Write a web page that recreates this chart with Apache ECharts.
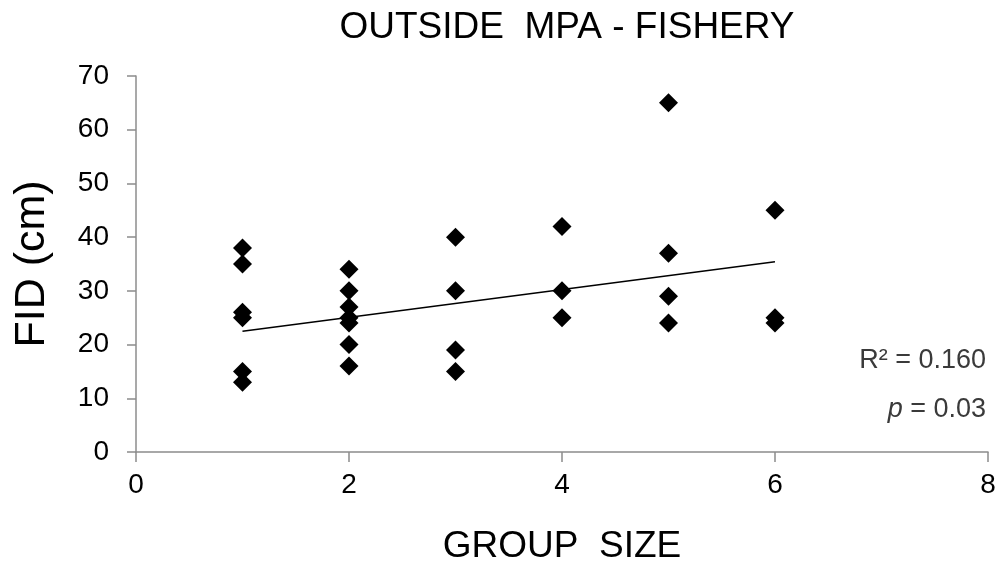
<!DOCTYPE html>
<html>
<head>
<meta charset="utf-8">
<script src="https://cdn.jsdelivr.net/npm/echarts@6/dist/echarts.min.js"></script>
<style>
  html, body { margin: 0; padding: 0; background: #fff; }
  #chart { width: 999px; height: 570px; }
</style>
</head>
<body>
<div id="chart"></div>
<script>
// Group size for each observation
const groupSize = [
  1, 1, 1, 1, 1, 1,
  2, 2, 2, 2, 2, 2, 2,
  3, 3, 3, 3,
  4, 4, 4,
  5, 5, 5, 5,
  6, 6, 6
];
// Flight initiation distance (cm) for each observation
const fid = [
  38, 35, 26, 25, 15, 13,
  34, 30, 27, 25, 24, 20, 16,
  40, 30, 19, 15,
  42, 30, 25,
  65, 37, 29, 24,
  45, 25, 24
];
// Linear trend line end points
const trendX = [1, 6];
const trendY = [22.5, 35.4];
// Axis ticks
const xTicks = [0, 2, 4, 6, 8];
const yTicks = [0, 10, 20, 30, 40, 50, 60, 70];
// Fit statistics
const r2Text = 'R² = 0.160';
const pValue = '0.03';

const FONT = '"Liberation Sans", Arial, sans-serif';
const points = groupSize.map((g, i) => [g, fid[i]]);
const trend = trendX.map((x, i) => [x, trendY[i]]);

const chart = echarts.init(document.getElementById('chart'), null, { renderer: 'canvas' });
chart.setOption({
  backgroundColor: '#ffffff',
  animation: false,
  title: {
    text: 'OUTSIDE  MPA - FISHERY',
    left: 562,
    textAlign: 'center',
    top: 4,
    textStyle: { fontFamily: FONT, fontSize: 37, fontWeight: 'normal', color: '#000' }
  },
  grid: { left: 136, right: 11, top: 76, bottom: 115 },
  xAxis: {
    type: 'value',
    min: xTicks[0],
    max: xTicks[xTicks.length - 1],
    interval: 2,
    name: 'GROUP  SIZE',
    nameLocation: 'middle',
    nameGap: 76,
    nameTextStyle: { fontFamily: FONT, fontSize: 37, color: '#000' },
    axisLine: { lineStyle: { color: '#8c8c8c', width: 1.5 } },
    axisTick: { show: true, inside: false, length: 10, lineStyle: { color: '#8c8c8c', width: 1.5 } },
    axisLabel: { fontFamily: FONT, fontSize: 28, color: '#000', margin: 19 },
    splitLine: { show: false }
  },
  yAxis: {
    type: 'value',
    min: yTicks[0],
    max: yTicks[yTicks.length - 1],
    interval: 10,
    name: 'FID (cm)',
    nameLocation: 'middle',
    nameRotate: 90,
    nameGap: 82,
    nameTextStyle: { fontFamily: FONT, fontSize: 43, color: '#000' },
    axisLine: { show: true, lineStyle: { color: '#8c8c8c', width: 1.5 } },
    axisTick: { show: true, inside: false, length: 9, lineStyle: { color: '#8c8c8c', width: 1.5 } },
    axisLabel: { fontFamily: FONT, fontSize: 28, color: '#000', margin: 27 },
    splitLine: { show: false }
  },
  series: [
    {
      type: 'line',
      data: trend,
      symbol: 'none',
      lineStyle: { color: '#000', width: 1.5 },
      z: 3
    },
    {
      type: 'scatter',
      data: points,
      symbol: 'diamond',
      symbolSize: [19, 19],
      itemStyle: { color: '#000', opacity: 1 },
      z: 4
    }
  ],
  graphic: [
    {
      type: 'text',
      right: 13,
      top: 347,
      style: { text: r2Text, font: '27px ' + FONT, fill: '#3a3a3a' }
    },
    {
      type: 'text',
      right: 13,
      top: 396,
      style: {
        text: '{i|p} = ' + pValue,
        font: '27px ' + FONT,
        fill: '#3a3a3a',
        rich: { i: { fontStyle: 'italic', fontSize: 27, fontFamily: FONT, fill: '#3a3a3a' } }
      }
    }
  ]
});
</script>
</body>
</html>
